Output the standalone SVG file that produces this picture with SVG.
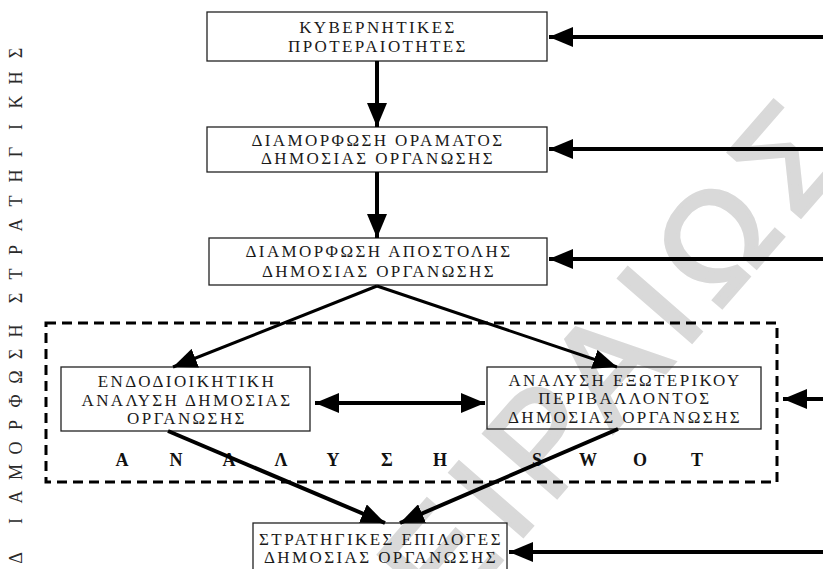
<svg xmlns="http://www.w3.org/2000/svg" width="823" height="569" viewBox="0 0 823 569">
<style>
.bx{fill:none;stroke:#222;stroke-width:1.3}
.t{font-family:"Liberation Serif","Times New Roman",serif;font-size:17px;fill:#1a1a1a;text-anchor:middle;letter-spacing:2.4px}
.sw{font-family:"Liberation Serif","Times New Roman",serif;font-size:18px;font-weight:bold;fill:#111;text-anchor:middle}
.side{font-family:"Liberation Serif","Times New Roman",serif;font-size:18px;fill:#2a2a2a;text-anchor:middle}
.ln{stroke:#000;stroke-width:4;fill:none;marker-end:url(#ah)}
.dg{stroke:#000;stroke-width:3;fill:none;marker-end:url(#ah)}
.wm{font-family:"Liberation Sans",Arial,sans-serif;font-size:140px;fill:#d9d9d9;stroke:#d9d9d9;stroke-width:4;letter-spacing:14px;text-anchor:end}
</style>
<defs>
<marker id="ah" markerUnits="userSpaceOnUse" markerWidth="24" markerHeight="20" refX="24" refY="10" orient="auto-start-reverse" viewBox="0 0 24 20">
<path d="M0,0 L24,10 L0,20 z" fill="#000"/>
</marker>
</defs>
<rect width="823" height="569" fill="#fff"/>
<g id="watermark">
<text class="wm" transform="translate(862,146) rotate(-49)">ΠΕΙΡΑΙΩΣ</text>
</g>
<g id="side-label">
<text class="side" transform="rotate(-90)" y="22" x="-558 -521 -497 -472 -448 -425 -401 -377 -354 -331 -315 -298 -274 -250 -225 -201 -176 -152 -127 -102 -78 -53">ΔΙΑΜΟΡΦΩΣΗ ΣΤΡΑΤΗΓΙΚΗΣ</text>
</g>
<g id="swot-frame">
<rect x="46" y="323" width="731" height="159" fill="none" stroke="#000" stroke-width="3" stroke-dasharray="10 6"/>
<text class="sw" y="466"><tspan x="122">Α</tspan><tspan x="176">Ν</tspan><tspan x="229">Α</tspan><tspan x="281">Λ</tspan><tspan x="333">Υ</tspan><tspan x="387">Σ</tspan><tspan x="440">Η</tspan><tspan x="537">S</tspan><tspan x="588">W</tspan><tspan x="640">O</tspan><tspan x="697">T</tspan></text>
</g>
<g id="n1">
<rect class="bx" x="207" y="12" width="340" height="49"/>
<text class="t" x="378" y="33">ΚΥΒΕΡΝΗΤΙΚΕΣ</text>
<text class="t" x="378" y="52">ΠΡΟΤΕΡΑΙΟΤΗΤΕΣ</text>
</g>
<g id="n2">
<rect class="bx" x="207" y="127" width="340" height="45"/>
<text class="t" x="378" y="146">ΔΙΑΜΟΡΦΩΣΗ ΟΡΑΜΑΤΟΣ</text>
<text class="t" x="378" y="164">ΔΗΜΟΣΙΑΣ ΟΡΓΑΝΩΣΗΣ</text>
</g>
<g id="n3">
<rect class="bx" x="209" y="238" width="338" height="47"/>
<text class="t" x="379" y="257">ΔΙΑΜΟΡΦΩΣΗ ΑΠΟΣΤΟΛΗΣ</text>
<text class="t" x="379" y="277">ΔΗΜΟΣΙΑΣ ΟΡΓΑΝΩΣΗΣ</text>
</g>
<g id="n4">
<rect class="bx" x="61" y="367" width="249" height="64"/>
<text class="t" x="187" y="387">ΕΝΔΟΔΙΟΙΚΗΤΙΚΗ</text>
<text class="t" x="187" y="406">ΑΝΑΛΥΣΗ ΔΗΜΟΣΙΑΣ</text>
<text class="t" x="187" y="424">ΟΡΓΑΝΩΣΗΣ</text>
</g>
<g id="n5">
<rect class="bx" x="487" y="367" width="274" height="62"/>
<text class="t" x="625" y="386">ΑΝΑΛΥΣΗ ΕΞΩΤΕΡΙΚΟΥ</text>
<text class="t" x="625" y="404">ΠΕΡΙΒΑΛΛΟΝΤΟΣ</text>
<text class="t" x="625" y="423">ΔΗΜΟΣΙΑΣ ΟΡΓΑΝΩΣΗΣ</text>
</g>
<g id="n6">
<rect class="bx" x="253" y="523" width="254" height="60"/>
<text class="t" x="381" y="545">ΣΤΡΑΤΗΓΙΚΕΣ ΕΠΙΛΟΓΕΣ</text>
<text class="t" x="381" y="563">ΔΗΜΟΣΙΑΣ ΟΡΓΑΝΩΣΗΣ</text>
</g>
<g id="connectors">
<line class="ln" x1="377" y1="61" x2="377" y2="127"/>
<line class="ln" x1="377" y1="172" x2="377" y2="238"/>
<line class="dg" x1="377" y1="286" x2="173" y2="367"/>
<line class="dg" x1="377" y1="286" x2="617" y2="367"/>
<line class="ln" x1="168" y1="431" x2="385" y2="523"/>
<line class="ln" x1="618" y1="429" x2="400" y2="523"/>
<line class="ln" x1="315" y1="403" x2="485" y2="403" marker-start="url(#ah)"/>
<line class="ln" x1="823" y1="37" x2="549" y2="37"/>
<line class="ln" x1="823" y1="149" x2="549" y2="149"/>
<line class="ln" x1="823" y1="259" x2="549" y2="259"/>
<line class="ln" x1="823" y1="399" x2="783" y2="399"/>
<line class="ln" x1="823" y1="552" x2="509" y2="552"/>
</g>
</svg>
